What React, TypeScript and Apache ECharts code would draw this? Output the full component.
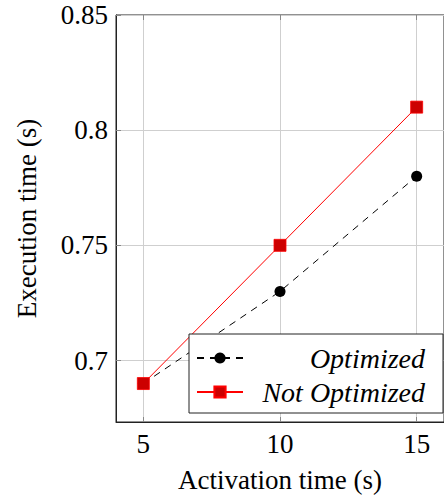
import React, { useEffect, useRef } from "react";
import * as echarts from "echarts";

const activationTimes = [5, 10, 15];
const optimized = [0.69, 0.73, 0.78];
const notOptimized = [0.69, 0.75, 0.81];
const yTicks = [0.7, 0.75, 0.8, 0.85];
const xTicks = [5, 10, 15];

const FONT = "Liberation Serif";

export default function App() {
  const ref = useRef<HTMLDivElement>(null);
  useEffect(() => {
    if (!ref.current) return;
    const chart = echarts.init(ref.current, undefined, { renderer: "svg" });
    const tickStyle = { show: true, inside: true, length: 5, lineStyle: { color: "#888", width: 1 } };
    chart.setOption({
      animation: false,
      backgroundColor: "#fff",
      textStyle: { fontFamily: FONT },
      grid: {
        left: 116,
        top: 15,
        width: 334,
        height: 410,
        show: true,
        borderColor: "#222",
        borderWidth: 1,
        backgroundColor: "transparent",
      },
      xAxis: [
        {
          type: "value",
          min: 4,
          max: 16,
          name: "Activation time (s)",
          nameLocation: "middle",
          nameGap: 44,
          nameTextStyle: { fontFamily: FONT, fontSize: 27, color: "#000" },
          axisLine: { show: true, lineStyle: { color: "#222" } },
          axisTick: { ...tickStyle, customValues: xTicks },
          axisLabel: { customValues: xTicks, fontFamily: FONT, fontSize: 27, color: "#000", margin: 8 },
          splitLine: { show: true, lineStyle: { color: "#cfcfcf", width: 1 } },
        },
        {
          type: "value",
          position: "top",
          min: 4,
          max: 16,
          axisLine: { show: false },
          axisTick: { ...tickStyle, customValues: xTicks },
          axisLabel: { show: false },
          splitLine: { show: false },
        },
      ],
      yAxis: {
        type: "value",
        min: 0.6733,
        max: 0.85,
        name: "Execution time (s)",
        nameLocation: "middle",
        nameGap: 76,
        nameTextStyle: { fontFamily: FONT, fontSize: 27, color: "#000" },
        axisLine: { show: true, lineStyle: { color: "#222" } },
        axisTick: { ...tickStyle, customValues: yTicks },
        axisLabel: {
          customValues: yTicks,
          fontFamily: FONT,
          fontSize: 27,
          color: "#000",
          margin: 8,
          formatter: (v: number) => String(+v.toFixed(2)),
        },
        splitLine: { show: true, lineStyle: { color: "#cfcfcf", width: 1 } },
      },
      legend: {
        left: 189,
        top: 334,
        orient: "vertical",
        backgroundColor: "#fff",
        borderColor: "#222",
        borderWidth: 1,
        borderRadius: 0,
        padding: [10, 18, 7, 7],
        itemGap: 6,
        itemWidth: 46,
        itemHeight: 14,
        data: ["Optimized", "Not Optimized"],
        formatter: (name: string) => `{a|${name}}`,
        textStyle: {
          fontFamily: FONT,
          fontStyle: "italic",
          fontSize: 28,
          rich: {
            a: {
              width: 177,
              align: "right",
              fontFamily: FONT,
              fontStyle: "italic",
              fontSize: 28,
              lineHeight: 30,
              color: "#000",
            },
          },
        },
      },
      series: [
        {
          name: "Optimized",
          type: "line",
          data: activationTimes.map((x, i) => [x, optimized[i]]),
          symbol: "circle",
          symbolSize: 11,
          itemStyle: { color: "#000" },
          lineStyle: { color: "#000", width: 1, type: [7, 6] },
        },
        {
          name: "Not Optimized",
          type: "line",
          data: activationTimes.map((x, i) => [x, notOptimized[i]]),
          symbol: "rect",
          symbolSize: 12,
          itemStyle: { color: "#cc0000", borderColor: "#ff0000", borderWidth: 0.8 },
          lineStyle: { color: "#ff0000", width: 1 },
        },
      ],
    });
    return () => chart.dispose();
  }, []);
  return (
    <div
      ref={ref}
      style={{ position: "fixed", left: 0, top: 0, width: 444, height: 498 }}
    />
  );
}
